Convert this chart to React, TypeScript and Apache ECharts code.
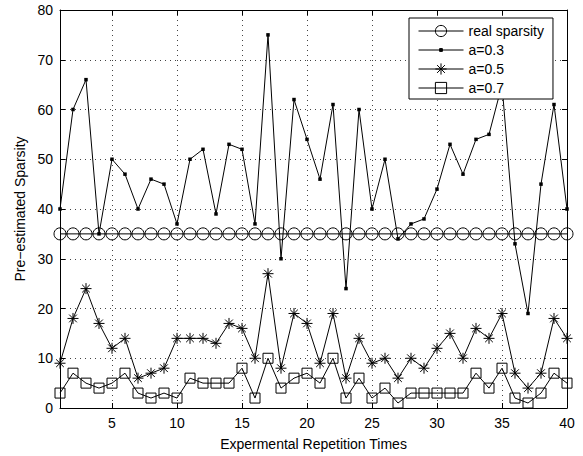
import React, { useEffect, useRef } from 'react';
import * as echarts from 'echarts';

const runs = ['1','2','3','4','5','6','7','8','9','10','11','12','13','14','15','16','17','18','19','20','21','22','23','24','25','26','27','28','29','30','31','32','33','34','35','36','37','38','39','40'];
const realSparsity = [35,35,35,35,35,35,35,35,35,35,35,35,35,35,35,35,35,35,35,35,35,35,35,35,35,35,35,35,35,35,35,35,35,35,35,35,35,35,35,35];
const a03 = [40,60,66,35,50,47,40,46,45,37,50,52,39,53,52,37,75,30,62,54,46,61,24,60,40,50,34,37,38,44,53,47,54,55,65,33,19,45,61,40];
const a05 = [9,18,24,17,12,14,6,7,8,14,14,14,13,17,16,10,27,8,19,17,9,19,6,14,9,10,6,10,8,12,15,10,16,14,19,7,4,7,18,14];
const a07 = [3,7,5,4,5,7,3,2,3,2,6,5,5,5,8,2,10,4,6,7,5,10,2,6,2,4,1,3,3,3,3,3,7,4,8,2,1,3,7,5];
const seriesNames = ['real sparsity', 'a=0.3', 'a=0.5', 'a=0.7'];
const xName = 'Expermental Repetition Times';
const yName = 'Pre\u2212estimated Sparsity';

const FONT = '"Liberation Sans", Arial, Helvetica, sans-serif';
const STAR = 'path://M5,0L5,10M0,5L10,5M1.5,1.5L8.5,8.5M1.5,8.5L8.5,1.5';
const DOT = 'path://M0,0M12,12M4.5,4.5L7.5,4.5L7.5,7.5L4.5,7.5Z';

const every5 = (index: number) => (index + 1) % 5 === 0;

export default function App() {
  const ref = useRef<HTMLDivElement>(null);
  useEffect(() => {
    document.body.style.margin = '0';
    const chart = echarts.init(ref.current!, null, { renderer: 'svg' });
    const lineStyle = { color: '#000', width: 1 };
    const option: any = {
      animation: false,
      backgroundColor: '#fff',
      textStyle: { fontFamily: FONT },
      grid: { left: 60, right: 16, top: 10, bottom: 46 },
      legend: {
        orient: 'vertical',
        left: 409,
        top: 18,
        data: seriesNames,
        backgroundColor: '#fff',
        borderColor: '#000',
        borderWidth: 1,
        padding: [6, 9, 4, 9],
        itemWidth: 45,
        itemHeight: 14,
        itemGap: 5,
        itemStyle: { borderWidth: 1, borderColor: '#000' },
        lineStyle: { width: 1, color: '#000' },
        textStyle: { fontFamily: FONT, fontSize: 14, color: '#000' },
      },
      xAxis: [
        {
          type: 'category',
          data: runs,
          boundaryGap: false,
          position: 'bottom',
          axisLine: { show: true, onZero: false, lineStyle },
          axisTick: { show: true, inside: true, length: 5, interval: every5, lineStyle },
          axisLabel: { interval: every5, color: '#000', fontSize: 14, margin: 8, fontFamily: FONT },
          splitLine: { show: true, interval: every5, lineStyle: { color: '#444', width: 1, type: [1, 4] } },
          name: xName,
          nameLocation: 'middle',
          nameGap: 29,
          nameTextStyle: { color: '#000', fontSize: 14, fontFamily: FONT },
        },
        {
          type: 'category',
          data: runs,
          boundaryGap: false,
          position: 'top',
          axisLine: { show: true, onZero: false, lineStyle },
          axisTick: { show: true, inside: true, length: 5, interval: every5, lineStyle },
          axisLabel: { show: false },
          splitLine: { show: false },
        },
      ],
      yAxis: [
        {
          type: 'value',
          min: 0,
          max: 80,
          interval: 10,
          position: 'left',
          axisLine: { show: true, onZero: false, lineStyle },
          axisTick: { show: true, inside: true, length: 5, lineStyle },
          axisLabel: { color: '#000', fontSize: 14, margin: 7, fontFamily: FONT },
          splitLine: { show: true, lineStyle: { color: '#444', width: 1, type: [1, 4] } },
          name: yName,
          nameLocation: 'middle',
          nameGap: 29,
          nameTextStyle: { color: '#000', fontSize: 14, fontFamily: FONT },
        },
        {
          type: 'value',
          min: 0,
          max: 80,
          interval: 10,
          position: 'right',
          axisLine: { show: true, onZero: false, lineStyle },
          axisTick: { show: true, inside: true, length: 5, lineStyle },
          axisLabel: { show: false },
          splitLine: { show: false },
        },
      ],
      series: [
        {
          name: seriesNames[0],
          type: 'line',
          data: realSparsity,
          symbol: 'circle',
          symbolSize: 12,
          showAllSymbol: true,
          lineStyle: { color: '#000', width: 1 },
          itemStyle: { color: 'transparent', borderColor: '#000', borderWidth: 1 },
        },
        {
          name: seriesNames[1],
          type: 'line',
          data: a03,
          symbol: DOT,
          symbolSize: 14,
          showAllSymbol: true,
          lineStyle: { color: '#000', width: 1 },
          itemStyle: { color: '#000', borderWidth: 0 },
        },
        {
          name: seriesNames[2],
          type: 'line',
          data: a05,
          symbol: STAR,
          symbolSize: 11,
          showAllSymbol: true,
          lineStyle: { color: '#000', width: 1 },
          itemStyle: { color: '#000', borderColor: '#000', borderWidth: 1 },
        },
        {
          name: seriesNames[3],
          type: 'line',
          data: a07,
          symbol: 'rect',
          symbolSize: 10,
          showAllSymbol: true,
          lineStyle: { color: '#000', width: 1 },
          itemStyle: { color: 'transparent', borderColor: '#000', borderWidth: 1 },
        },
      ],
    };
    chart.setOption(option);
    return () => chart.dispose();
  }, []);
  return <div ref={ref} style={{ width: 583, height: 456 }} />;
}
